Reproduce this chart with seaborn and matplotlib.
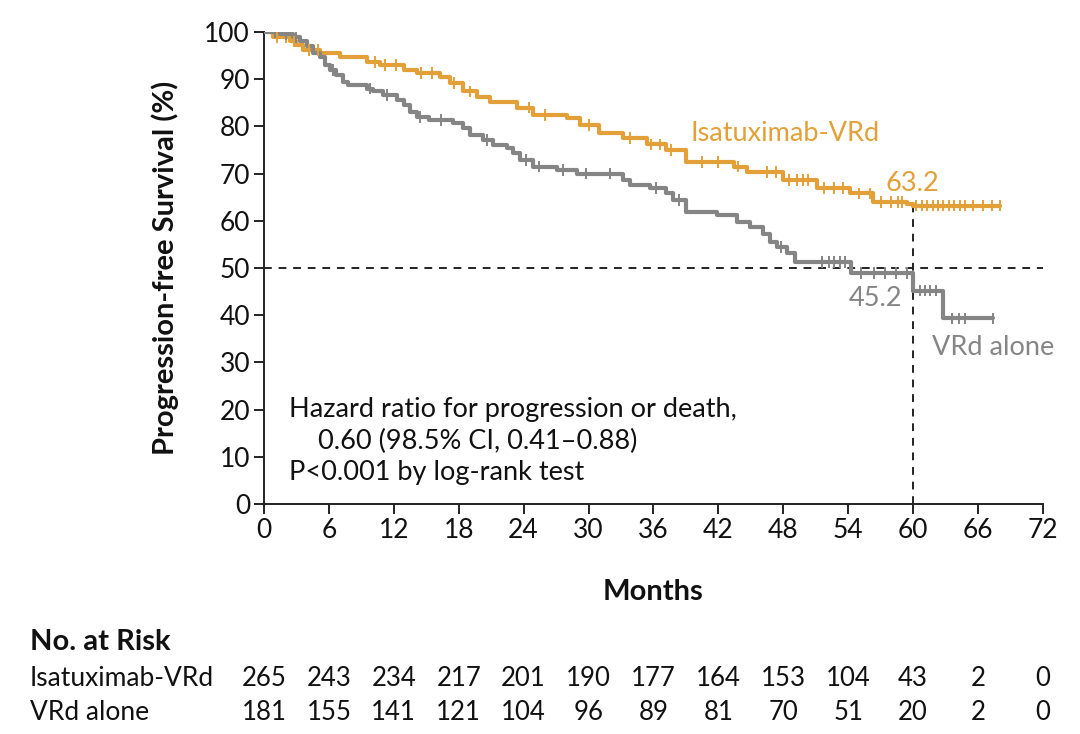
import numpy as np
import pandas as pd
import matplotlib
matplotlib.use("Agg")
import matplotlib.pyplot as plt
import matplotlib.transforms as mtransforms
import seaborn as sns

# ---------------- data ----------------
iso_t = [0, 0.8, 2.4, 3.0, 3.6, 5.2, 7.0, 9.5, 10.7, 12.9, 14.1, 16.3, 17.2, 18.4, 19.7, 20.9,
         23.4, 24.9, 28.0, 29.2, 31.0, 33.2, 35.4, 37.2, 39.0, 43.4, 44.6, 48.0, 51.1, 54.2,
         56.3, 59.4, 60.0, 68.0]
iso_s = [100, 99, 98, 97.2, 96.2, 95.6, 94.6, 93.7, 93, 92, 91.3, 90.5, 89.2, 87.4, 86.3, 85.2,
         84, 82.4, 81.8, 80.3, 78.6, 77.5, 76.2, 75, 72.5, 71.5, 70.4, 68.6, 66.9, 65.8,
         64, 63.5, 63.2, 63.2]
iso_cens = [1.2, 2.0, 2.8, 4.2, 5.0, 10.3, 11.2, 12.2, 14.5, 15.5, 17.6, 19.0, 24.5, 26.0,
            30.0, 33.8, 35.8, 36.6, 37.6, 40.5, 42.0, 43.8, 46.5, 47.3, 48.5, 49.3, 49.8, 50.3,
            51.8, 52.7, 53.5, 55.0, 56.0, 57.0, 58.0, 58.6, 59.0, 60.3, 60.8, 61.3, 61.8, 62.3,
            62.8, 63.3, 63.8, 64.3, 64.8, 65.5, 66.5, 67.3, 68.0]

vrd_t = [0, 1.5, 2.7, 3.3, 4.0, 4.5, 5.2, 5.6, 6.1, 6.7, 7.3, 7.8, 9.5, 10.1, 11.0, 12.3, 12.9,
         13.5, 14.1, 15.3, 17.5, 18.4, 19.0, 20.2, 21.2, 22.5, 23.0, 23.7, 24.9, 27.1, 28.9,
         33.2, 33.8, 35.7, 37.2, 37.8, 39.0, 41.9, 43.7, 44.9, 46.1, 46.8, 47.4, 48.3, 49.1,
         54.3, 60.0, 62.8, 67.4]
vrd_s = [100, 99.5, 99, 98, 97, 95.5, 94.8, 93, 92, 90.9, 89.5, 88.8, 88, 87.4, 86.7, 85.6, 84.5,
         83.1, 82, 81.4, 80.7, 79.6, 78.2, 77.1, 76, 75.4, 74.3, 72.9, 71.5, 70.8, 70,
         68.6, 67.6, 66.9, 65.8, 64.4, 61.9, 61.2, 59.8, 58.7, 57.3, 55.6, 54.5, 53.1, 51.3,
         49, 45.2, 39.3, 39.3]
vrd_cens = [1.0, 2.0, 3.0, 6.4, 9.8, 11.4, 14.4, 16.4, 20.6, 24.2, 25.4, 27.6, 29.8, 32.0,
            36.2, 38.4, 47.8, 51.6, 52.2, 52.7, 53.2, 53.7, 55.2, 56.4, 57.4, 58.4, 59.4,
            60.6, 61.1, 61.6, 62.1, 63.6, 64.2, 64.8, 67.4]

groups = ["Isatuximab-VRd", "VRd alone"]
colors = {"Isatuximab-VRd": "#E4A038", "VRd alone": "#858585"}
risk_months = [0, 6, 12, 18, 24, 30, 36, 42, 48, 54, 60, 66, 72]
risk_iso = [265, 243, 234, 217, 201, 190, 177, 164, 153, 104, 43, 2, 0]
risk_vrd = [181, 155, 141, 121, 104, 96, 89, 81, 70, 51, 20, 2, 0]
median_iso = 63.2
median_vrd = 45.2
landmark = 60

# ---------------- frames ----------------
curve = pd.concat([
    pd.DataFrame({"t": iso_t, "s": iso_s, "g": groups[0]}),
    pd.DataFrame({"t": vrd_t, "s": vrd_s, "g": groups[1]}),
])

def censor_frame(ts, ss, cens, g):
    ts = np.asarray(ts); ss = np.asarray(ss); c = np.asarray(cens)
    idx = np.searchsorted(ts, c, side="right") - 1
    return pd.DataFrame({"t": c, "s": ss[idx], "g": g})

cens = pd.concat([censor_frame(iso_t, iso_s, iso_cens, groups[0]),
                  censor_frame(vrd_t, vrd_s, vrd_cens, groups[1])])

# ---------------- plot ----------------
sns.set_style("white")
plt.rcParams["font.family"] = ["Lato", "DejaVu Sans"]

TXT = "#111111"
fig = plt.figure(figsize=(10.8, 7.34), dpi=100)
ax = fig.add_axes([0.2444, 0.3134, 0.7213, 0.643])

# reference lines
ax.axhline(50, color="#222222", lw=1.4, ls=(0, (4, 3.5)), zorder=1)
ax.plot([landmark, landmark], [0, median_iso], color="#222222", lw=1.4, ls=(0, (4, 3.5)), zorder=1)

sns.lineplot(data=curve, x="t", y="s", hue="g", palette=colors, estimator=None, sort=False,
             drawstyle="steps-post", lw=3.0, legend=False, ax=ax, zorder=3)
sns.scatterplot(data=cens, x="t", y="s", hue="g", palette=colors, marker="|", s=70,
                linewidth=1.4, legend=False, ax=ax, zorder=4)

ax.set_xlim(0, 72)
ax.set_ylim(0, 100)
ax.set_xticks(risk_months)
ax.set_yticks(range(0, 101, 10))
for s in ["top", "right"]:
    ax.spines[s].set_visible(False)
for s in ["left", "bottom"]:
    ax.spines[s].set_color("#222222")
    ax.spines[s].set_linewidth(1.4)
ax.tick_params(axis="both", direction="out", length=7, width=1.4, color="#222222",
               labelsize=19, labelcolor=TXT, pad=3, left=True, bottom=True)
ax.set_xlabel("Months", fontsize=21, fontweight="bold", labelpad=26, color=TXT)
ax.set_ylabel("Progression-free Survival (%)", fontsize=21, fontweight="bold", labelpad=18,
              color=TXT)

# annotations
FS = 19.5
ax.text(39.4, 78.6, "Isatuximab-VRd", color=colors[groups[0]], fontsize=FS, va="center")
ax.text(59.9, 68.0, f"{median_iso:.1f}", color=colors[groups[0]], fontsize=FS, va="center",
        ha="center")
ax.text(59.0, 43.6, f"{median_vrd:.1f}", color=colors[groups[1]], fontsize=FS, va="center",
        ha="right")
ax.text(61.7, 33.2, "VRd alone", color=colors[groups[1]], fontsize=FS, va="center")
ax.text(2.3, 20.0, "Hazard ratio for progression or death,", fontsize=FS, va="center", color=TXT)
ax.text(5.0, 13.3, "0.60 (98.5% CI, 0.41–0.88)", fontsize=FS, va="center", color=TXT)
ax.text(2.3, 6.6, "P<0.001 by log-rank test", fontsize=FS, va="center", color=TXT)

# number at risk table
trans = mtransforms.blended_transform_factory(ax.transData, fig.transFigure)
fig.text(30 / 1080, 1 - 642 / 734, "No. at Risk", fontsize=21, fontweight="bold",
         va="center", ha="left", color=TXT)
rows = [(groups[0], risk_iso, 679), (groups[1], risk_vrd, 712)]
for name, vals, ypx in rows:
    fig.text(30 / 1080, 1 - ypx / 734, name, fontsize=19, va="center", ha="left", color=TXT)
    for m, v in zip(risk_months, vals):
        ax.text(m, 1 - ypx / 734, str(v), transform=trans, fontsize=18.5, va="center",
                ha="center", clip_on=False, color=TXT)

fig.savefig("out.png", dpi=100, facecolor="white")
